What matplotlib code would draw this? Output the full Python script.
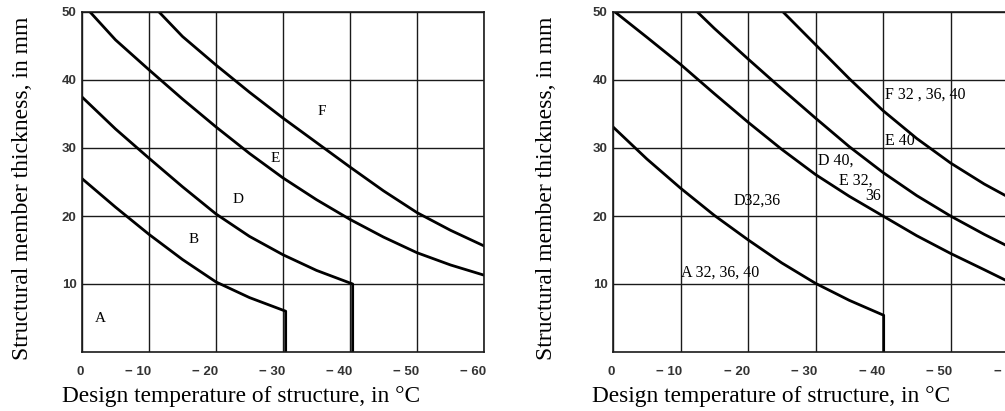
import matplotlib.pyplot as plt
import matplotlib.transforms as mtransforms

# design temperature (deg C, negative) and member thickness (mm)
x_ticks = [0, -10, -20, -30, -40, -50, -60]
x_tick_labels = ['0', '− 10', '− 20', '− 30', '− 40', '− 50', '− 60']
y_ticks = [10, 20, 30, 40, 50]
y_tick_labels = ['10', '20', '30', '40', '50']

# left chart: boundaries between steel grades
ab_t = [0, -5, -10, -15, -20, -25, -30.4, -30.4]
ab_h = [25.5, 21.3, 17.3, 13.6, 10.3, 8.0, 6.0, 0]
bd_t = [0, -5, -10, -15, -20, -25, -30, -35, -40.4, -40.4]
bd_h = [37.5, 32.8, 28.5, 24.3, 20.3, 17.0, 14.3, 12.0, 10.0, 0]
de_t = [-1.2, -5, -10, -15, -20, -25, -30, -35, -40, -45, -50, -55, -60]
de_h = [50, 45.9, 41.5, 37.2, 33.1, 29.2, 25.6, 22.4, 19.5, 16.9, 14.6, 12.8, 11.3]
ef_t = [-11.5, -15, -20, -25, -30, -35, -40, -45, -50, -55, -60]
ef_h = [50, 46.4, 42.2, 38.2, 34.4, 30.8, 27.2, 23.7, 20.5, 17.9, 15.6]

left_labels = ['F', 'E', 'D', 'B', 'A']
left_label_t = [-35.8, -28.8, -23.3, -16.6, -2.7]
left_label_h = [35.4, 28.4, 22.5, 16.6, 5.0]

# right chart
ra_t = [0, -5, -10, -15, -20, -25, -30, -35, -40.1, -40.1]
ra_h = [33.1, 28.4, 24.1, 20.1, 16.5, 13.1, 10.1, 7.6, 5.4, 0]
rd_t = [-0.3, -5, -10, -15, -20, -25, -30, -35, -40, -45, -50, -55, -59.3]
rd_h = [50, 46.3, 42.3, 38.0, 33.8, 29.8, 26.1, 22.9, 20.0, 17.1, 14.5, 12.1, 10.0]
re_t = [-12.5, -15, -20, -25, -30, -35, -40, -45, -50, -55, -60]
re_h = [50, 47.6, 43.1, 38.7, 34.4, 30.2, 26.4, 23.0, 20.0, 17.3, 14.8]
rf_t = [-25.2, -30, -35, -40, -45, -50, -55, -60]
rf_h = [50, 45.2, 40.2, 35.5, 31.4, 27.8, 24.7, 22.0]

right_labels = ['F 32 , 36, 40', 'E 40', 'D 40,', 'E 32,', '36', 'D32,36', 'A 32, 36, 40']
right_label_t = [-40.3, -40.3, -30.4, -33.5, -37.3, -17.9, -10.1]
right_label_h = [37.8, 31.0, 28.1, 25.2, 22.9, 22.3, 11.7]

xlabel = 'Design temperature of structure, in °C'
ylabel = 'Structural member thickness, in mm'

fig = plt.figure(figsize=(10.05, 4.11), dpi=100)
ax1 = fig.add_axes([82 / 1005, 59 / 411, 402 / 1005, 340 / 411])
ax2 = fig.add_axes([613 / 1005, 59 / 411, 405 / 1005, 340 / 411])

serif = 'Liberation Serif'
grid_c = '#1a1a1a'


def setup(ax, xlab_x, ylab_x):
    ax.set_xlim(0, -60)
    ax.set_ylim(0, 50)
    ax.set_xticks(x_ticks)
    ax.set_xticklabels(x_tick_labels, fontsize=9.5, family='Liberation Sans',
                       weight='bold', ha='right')
    ax.set_yticks(y_ticks)
    ax.set_yticklabels(y_tick_labels, fontsize=9.5, family='Liberation Sans', weight='bold')
    ax.tick_params(length=0, colors='#333333')
    ax.tick_params(axis='x', pad=10)
    ax.tick_params(axis='y', pad=4)
    off = mtransforms.ScaledTranslation(0.02, 0, fig.dpi_scale_trans)
    for lbl in ax.get_xticklabels():
        lbl.set_transform(lbl.get_transform() + off)
    ax.grid(True, color=grid_c, linewidth=1.0)
    for s in ax.spines.values():
        s.set_color(grid_c)
        s.set_linewidth(1.2)
    ax.set_xlabel(xlabel, fontsize=16.8, family=serif, ha='left')
    ax.xaxis.set_label_coords(xlab_x, -0.1)
    ax.set_ylabel(ylabel, fontsize=17, family=serif, va='center')
    ax.yaxis.set_label_coords(ylab_x, 0.48)


setup(ax1, -0.05, -0.149)
setup(ax2, -0.052, -0.165)

for t, h in [(ab_t, ab_h), (bd_t, bd_h), (de_t, de_h), (ef_t, ef_h)]:
    ax1.plot(t, h, color='black', linewidth=2.0, solid_joinstyle='round')
for lab, t, h in zip(left_labels, left_label_t, left_label_h):
    ax1.text(t, h, lab, fontsize=11, family=serif, ha='center', va='center')

for t, h in [(ra_t, ra_h), (rd_t, rd_h), (re_t, re_h), (rf_t, rf_h)]:
    ax2.plot(t, h, color='black', linewidth=2.0, solid_joinstyle='round')
for lab, t, h in zip(right_labels, right_label_t, right_label_h):
    ax2.text(t, h, lab, fontsize=11.5, family=serif, ha='left', va='center')

fig.savefig('out.png', dpi=100)
